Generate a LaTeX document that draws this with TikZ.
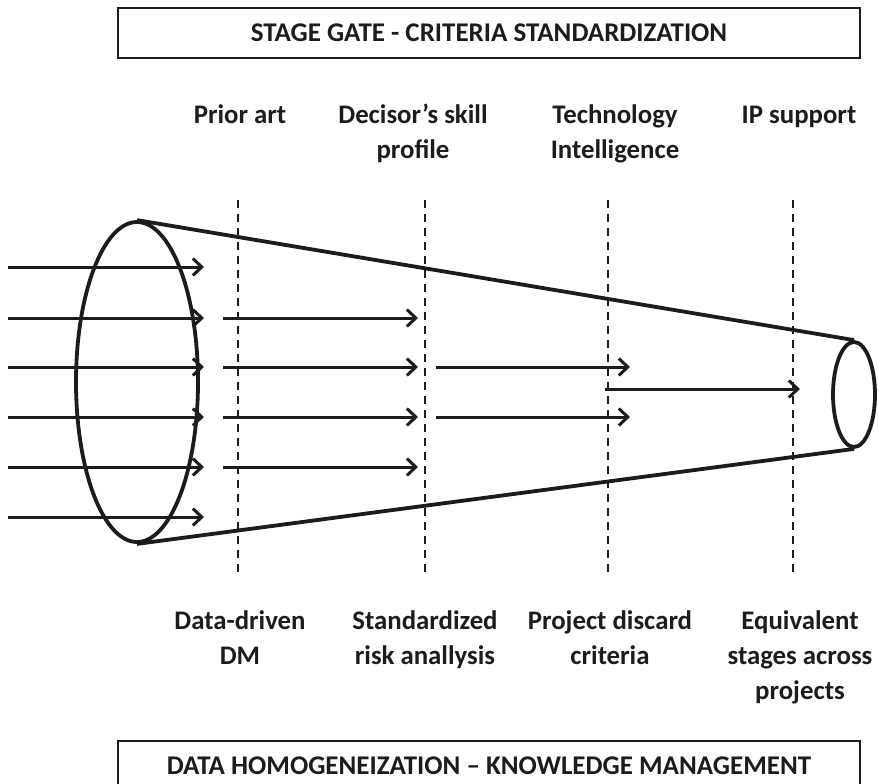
\documentclass[tikz,border=0pt]{standalone}
\usepackage{fontspec}
\setmainfont{Carlito}
\usetikzlibrary{arrows.meta,shapes.geometric}
\definecolor{ink}{HTML}{1C1C1C}
\begin{document}
\begin{tikzpicture}[x=1pt,y=-1pt, color=ink,
  lbl/.style={font=\fontsize{26.8}{35}\selectfont\bfseries, align=center, inner sep=0pt, anchor=north},
  banner/.style={draw, line width=2.2pt, minimum width=742pt, minimum height=50pt,
    font=\fontsize{27}{30}\selectfont\bfseries, inner sep=0pt},
  gate/.style={line width=1.6pt, dash pattern=on 8pt off 6pt},
  shell/.style={line width=3.8pt},
  flow/.style={line width=3pt, -{Straight Barb[length=9pt,width=17pt,line width=3pt]}}]
\useasboundingbox (0,0) rectangle (879,784);

% headers and footers
\node[banner] (top) at (489,33) {STAGE GATE - CRITERIA STANDARDIZATION};
\node[banner] (bot) at (489,766) {DATA HOMOGENEIZATION -- KNOWLEDGE MANAGEMENT};

\node[lbl] (g1) at (240,104) {Prior art};
\node[lbl] (g2) at (413,104) {Decisor’s skill\\profile};
\node[lbl] (g3) at (615,104) {Technology\\Intelligence};
\node[lbl] (g4) at (799,106) {IP support};

\node[lbl] (b1) at (240,610) {Data-driven\\DM};
\node[lbl] (b2) at (425,610) {Standardized\\risk anallysis};
\node[lbl] (b3) at (610,610) {Project discard\\criteria};
\node[lbl] (b4) at (800,610) {Equivalent\\stages across\\projects};

% stage gates
\foreach \x/\n in {238/1,425/2,608/3,793/4}{
  \coordinate (gt\n) at (\x,200);
  \coordinate (gb\n) at (\x,576);
  \draw[gate] (gt\n) -- (gb\n);
}

% funnel
\node[shell, draw, ellipse, minimum width=122pt, minimum height=320pt, inner sep=0pt] (big) at (137,382) {};
\node[shell, draw, ellipse, minimum width=42pt, minimum height=105pt, inner sep=0pt] (small) at (854,394.5) {};
\draw[shell] (big.north) -- (small.north);
\draw[shell] (big.south) -- (small.south);

% incoming ideas
\foreach \y/\n in {267/1,318/2,367/3,417/4,467/5,517/6}{
  \coordinate (a\n) at (8,\y);
  \coordinate (e\n) at (204,\y);
  \draw[flow] (a\n) -- (e\n);
}
% after first gate
\foreach \y/\n in {318/2,367/3,417/4,467/5}{
  \coordinate (p\n) at (223,\y);
  \coordinate (q\n) at (418,\y);
  \draw[flow] (p\n) -- (q\n);
}
% after second gate
\foreach \y/\n in {367/3,417/4}{
  \coordinate (r\n) at (436,\y);
  \coordinate (s\n) at (630,\y);
  \draw[flow] (r\n) -- (s\n);
}
% after third gate
\coordinate (t1) at (605,389);
\coordinate (u1) at (800,389);
\draw[flow] (t1) -- (u1);
\end{tikzpicture}
\end{document}
